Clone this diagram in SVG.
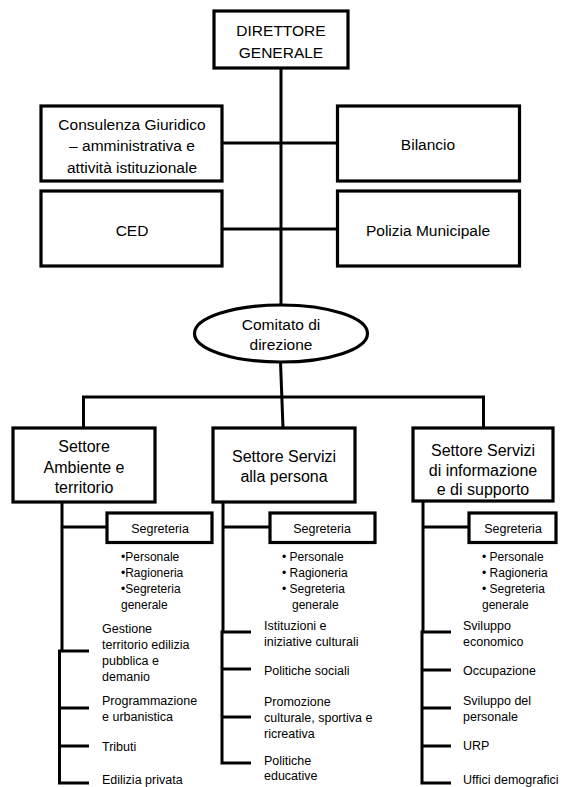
<svg xmlns="http://www.w3.org/2000/svg" width="563" height="787" viewBox="0 0 563 787">
  <style>
    .box { fill: #fff; stroke: #000; stroke-width: 3.2; }
    .ln { fill: none; stroke: #000; stroke-width: 3; }
    text { font-family: "Liberation Sans", Arial, sans-serif; fill: #000; }
    .t1 { font-size: 15.5px; text-anchor: middle; }
    .t2 { font-size: 16px; text-anchor: middle; }
    .seg { font-size: 12.5px; text-anchor: middle; }
    .sm { font-size: 12px; }
    .it { font-size: 12.5px; }
  </style>
  <rect width="563" height="787" fill="#fff"/>

  <!-- connectors -->
  <g id="connectors">
    <path class="ln" d="M281,68 V305"/>
    <path class="ln" d="M222,143 H337.5"/>
    <path class="ln" d="M222,229 H337.5"/>
    <path class="ln" d="M280.5,362 L283,428"/>
    <path class="ln" d="M83.5,428 V397 H483.5 V428"/>
    <!-- Ambiente column -->
    <path class="ln" d="M62,502 V651"/>
    <path class="ln" d="M62,527 H107"/>
    <path class="ln" d="M89,651 H59.5 V783 H89"/>
    <path class="ln" d="M59.5,708 H89"/>
    <path class="ln" d="M59.5,746 H89"/>
    <!-- Servizi alla persona column -->
    <path class="ln" d="M223,502 V632"/>
    <path class="ln" d="M223,527 H270"/>
    <path class="ln" d="M251,632 H222 V763 H251"/>
    <path class="ln" d="M222,669 H251"/>
    <path class="ln" d="M222,717 H251"/>
    <!-- Servizi di informazione column -->
    <path class="ln" d="M423,501 V632"/>
    <path class="ln" d="M423,527 H469"/>
    <path class="ln" d="M451,632 H422 V783 H451"/>
    <path class="ln" d="M422,670 H451"/>
    <path class="ln" d="M422,708 H451"/>
    <path class="ln" d="M422,746 H451"/>
  </g>

  <g id="direttore">
    <rect class="box" x="214" y="11" width="134" height="57"/>
    <text class="t1" x="281" y="36">DIRETTORE</text>
    <text class="t1" x="281" y="57.5">GENERALE</text>
  </g>

  <g id="consulenza">
    <rect class="box" x="41" y="106" width="181" height="75"/>
    <text class="t1" x="132" y="129.5">Consulenza Giuridico</text>
    <text class="t1" x="132" y="151">– amministrativa e</text>
    <text class="t1" x="132" y="172.5">attività istituzionale</text>
  </g>

  <g id="bilancio">
    <rect class="box" x="337.5" y="106" width="182" height="75"/>
    <text class="t1" x="428" y="150">Bilancio</text>
  </g>

  <g id="ced">
    <rect class="box" x="41" y="191" width="181" height="75"/>
    <text class="t1" x="132" y="236">CED</text>
  </g>

  <g id="polizia">
    <rect class="box" x="337.5" y="191" width="182" height="75"/>
    <text class="t1" x="428" y="236">Polizia Municipale</text>
  </g>

  <g id="comitato">
    <ellipse class="box" cx="281" cy="333.5" rx="86.5" ry="28.5"/>
    <text class="t1" x="281" y="330">Comitato di</text>
    <text class="t1" x="281" y="350">direzione</text>
  </g>

  <g id="settore-ambiente">
    <rect class="box" x="13" y="428" width="142" height="74"/>
    <text class="t2" x="84" y="452">Settore</text>
    <text class="t2" x="84" y="472.5">Ambiente e</text>
    <text class="t2" x="84" y="493">territorio</text>
  </g>

  <g id="settore-persona">
    <rect class="box" x="213" y="428" width="142" height="74"/>
    <text class="t2" x="284" y="462">Settore Servizi</text>
    <text class="t2" x="284" y="482">alla persona</text>
  </g>

  <g id="settore-informazione">
    <rect class="box" x="413" y="428" width="140" height="73"/>
    <text class="t2" x="483" y="455.5">Settore Servizi</text>
    <text class="t2" x="483" y="476">di informazione</text>
    <text class="t2" x="483" y="495">e di supporto</text>
  </g>

  <g id="segreteria-ambiente">
    <rect class="box" x="107" y="513" width="105" height="29.5"/>
    <text class="seg" x="160" y="533">Segreteria</text>
    <text class="sm" x="121" y="561">•Personale</text>
    <text class="sm" x="121" y="577">•Ragioneria</text>
    <text class="sm" x="121" y="593">•Segreteria</text>
    <text class="sm" x="121" y="609">generale</text>
  </g>

  <g id="segreteria-persona">
    <rect class="box" x="270" y="513" width="105" height="29.5"/>
    <text class="seg" x="322" y="533">Segreteria</text>
    <text class="sm" x="282" y="561">• Personale</text>
    <text class="sm" x="282" y="577">• Ragioneria</text>
    <text class="sm" x="282" y="593">• Segreteria</text>
    <text class="sm" x="292" y="609">generale</text>
  </g>

  <g id="segreteria-informazione">
    <rect class="box" x="469" y="513" width="87" height="29.5"/>
    <text class="seg" x="513" y="533">Segreteria</text>
    <text class="sm" x="482" y="561">• Personale</text>
    <text class="sm" x="482" y="577">• Ragioneria</text>
    <text class="sm" x="482" y="593">• Segreteria</text>
    <text class="sm" x="482" y="609">generale</text>
  </g>

  <g id="uffici-ambiente">
    <text class="it" x="102" y="632.5">Gestione</text>
    <text class="it" x="102" y="648.5">territorio edilizia</text>
    <text class="it" x="102" y="664.5">pubblica e</text>
    <text class="it" x="102" y="680.5">demanio</text>
    <text class="it" x="102" y="705">Programmazione</text>
    <text class="it" x="102" y="721">e urbanistica</text>
    <text class="it" x="102" y="750.5">Tributi</text>
    <text class="it" x="102" y="783.5">Edilizia privata</text>
  </g>

  <g id="uffici-persona">
    <text class="it" x="264" y="629.5">Istituzioni e</text>
    <text class="it" x="264" y="645.5">iniziative culturali</text>
    <text class="it" x="264" y="674.5">Politiche sociali</text>
    <text class="it" x="264" y="706">Promozione</text>
    <text class="it" x="264" y="722">culturale, sportiva e</text>
    <text class="it" x="264" y="738">ricreativa</text>
    <text class="it" x="264" y="765">Politiche</text>
    <text class="it" x="264" y="780">educative</text>
  </g>

  <g id="uffici-informazione">
    <text class="it" x="463" y="629.5">Sviluppo</text>
    <text class="it" x="463" y="645.5">economico</text>
    <text class="it" x="463" y="674.5">Occupazione</text>
    <text class="it" x="463" y="705">Sviluppo del</text>
    <text class="it" x="463" y="721">personale</text>
    <text class="it" x="463" y="750">URP</text>
    <text class="it" x="463" y="783.5">Uffici demografici</text>
  </g>
</svg>
